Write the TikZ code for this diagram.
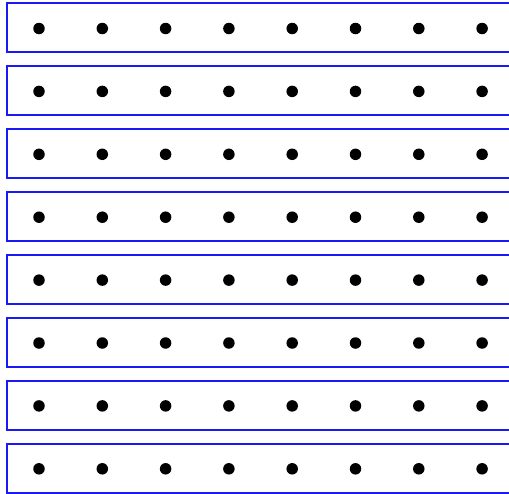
\documentclass[tikz,border=0pt]{standalone}
\begin{document}
\begin{tikzpicture}[x=1pt,y=-1pt,
  rowbox/.style={draw={rgb,255:red,25;green,25;blue,245},line width=1.9pt},
  dotmark/.style={circle,fill=black,inner sep=0pt,minimum size=11.5pt}]
\clip (0,0) rectangle (509,493);
\foreach \i in {0,...,7}{
  \draw[rowbox] (7,{2.8+63*\i}) rectangle (530,{52.3+63*\i});
  \foreach \j in {0,...,7}{
    \node[dotmark] (d\i\j) at ({39+63.3*\j},{28.5+62.9*\i}) {};
  }
}
\end{tikzpicture}
\end{document}
